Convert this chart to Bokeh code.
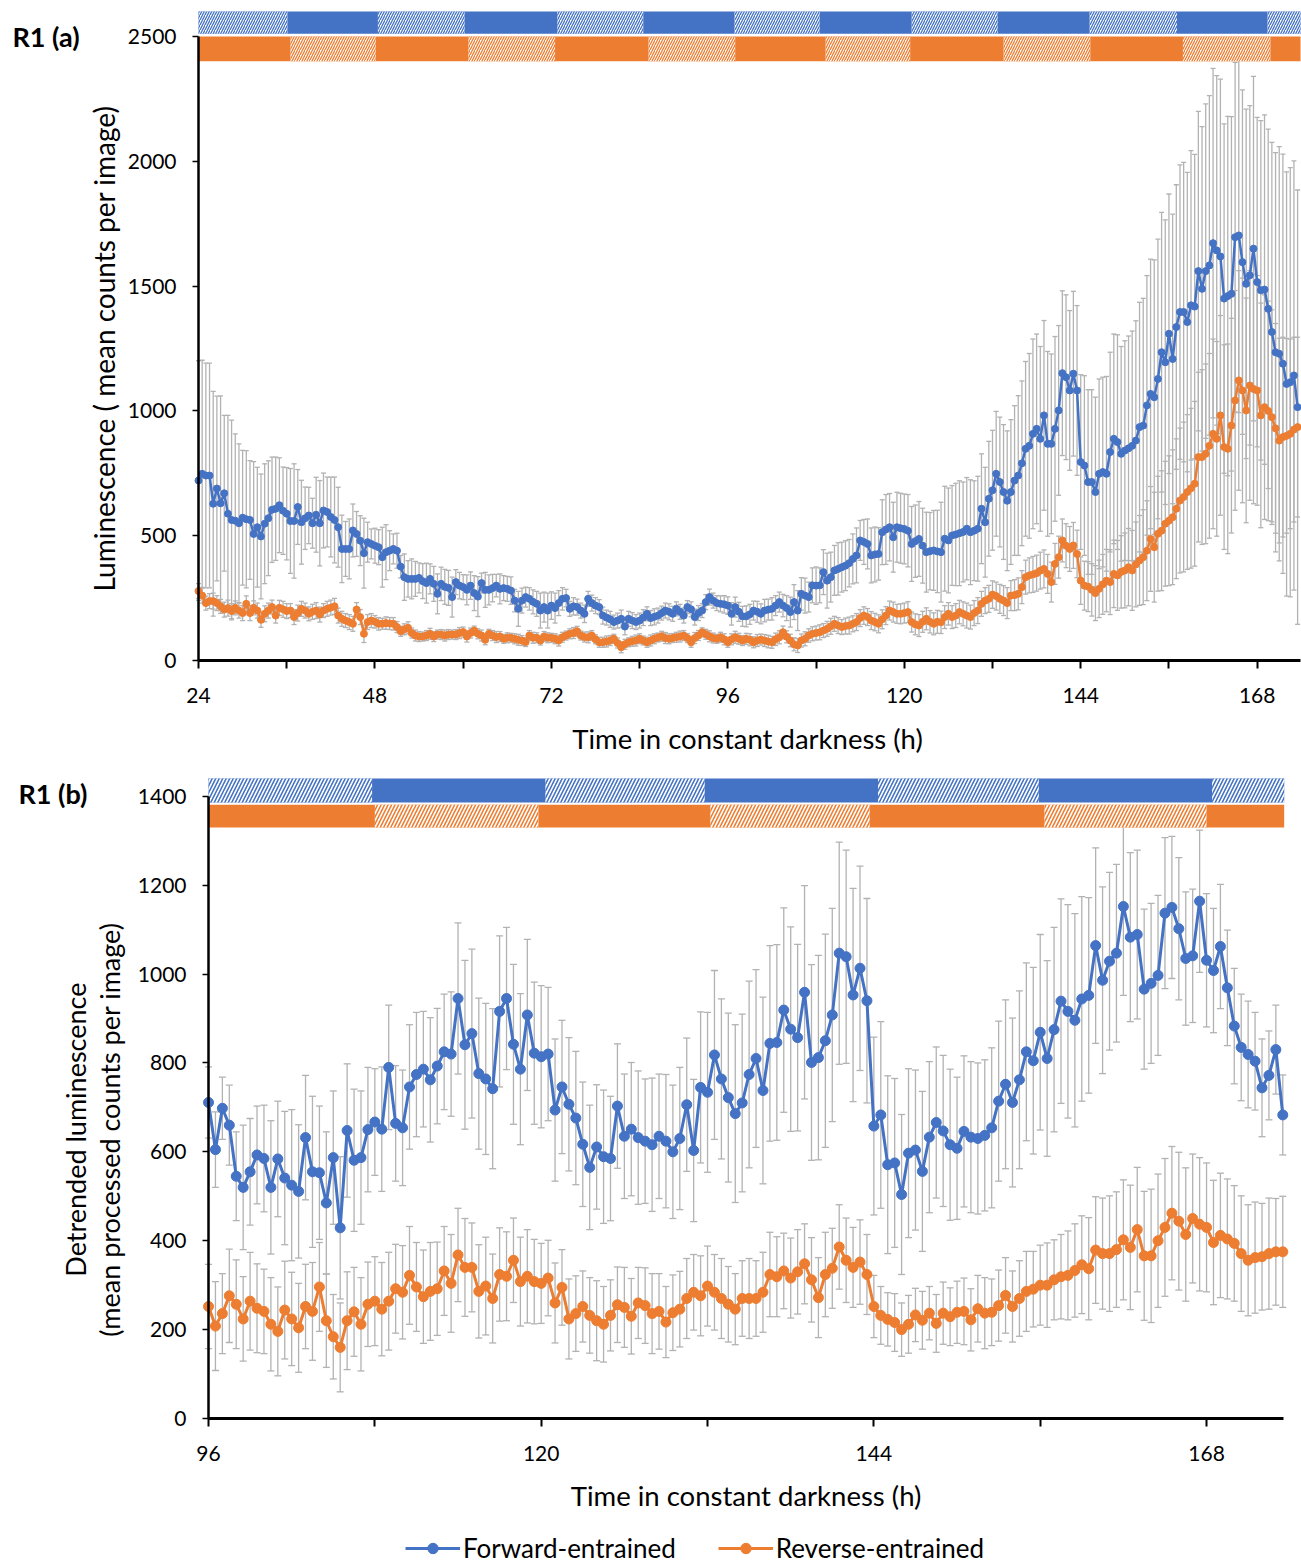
import math
from bokeh.plotting import figure
from bokeh.models import (Range1d, FixedTicker, Whisker, TeeHead, ColumnDataSource,
                          Legend, LegendItem)
from bokeh.layouts import column
from bokeh.embed import file_html
from bokeh.resources import INLINE
from bokeh.core.properties import value

BLUE = "#4472C4"
ORANGE = "#ED7D31"
GRAY = "#B2B2B2"
FONT = "Lato"

# ---------------- data: panel (a) ----------------
t0_a, step_a = 24.0, 0.5
blue_a = [
    721, 748, 741, 741, 628, 689, 630, 670, 588, 563, 560, 550,
    572, 566, 563, 507, 534, 497, 548, 570, 604, 608, 622, 600,
    588, 559, 559, 615, 554, 570, 581, 550, 584, 550, 601, 595,
    575, 563, 534, 447, 447, 447, 521, 507, 480, 430, 474, 467,
    460, 454, 414, 434, 440, 447, 440, 376, 334, 327, 327, 327,
    331, 318, 310, 327, 307, 267, 307, 295, 291, 254, 314, 300,
    294, 283, 300, 270, 256, 310, 283, 283, 290, 300, 287, 290,
    287, 280, 240, 207, 240, 254, 247, 235, 227, 200, 214, 200,
    220, 210, 230, 247, 250, 207, 217, 214, 200, 187, 247, 230,
    220, 214, 180, 172, 165, 154, 160, 167, 136, 167, 160, 154,
    160, 172, 187, 170, 175, 180, 190, 200, 195, 187, 207, 195,
    180, 214, 205, 174, 190, 200, 234, 254, 240, 230, 227, 225,
    220, 187, 214, 195, 177, 177, 185, 200, 195, 187, 200, 204,
    207, 220, 234, 220, 210, 194, 234, 200, 267, 260, 254, 301,
    300, 301, 354, 320, 334, 361, 367, 374, 380, 390, 407, 421,
    481, 475, 467, 421, 425, 427, 514, 525, 534, 494, 534, 530,
    527, 520, 467, 478, 487, 460, 434, 438, 441, 437, 434, 488,
    481, 501, 505, 510, 515, 528, 514, 520, 528, 608, 554, 648,
    682, 748, 715, 675, 640, 675, 721, 741, 790, 848, 860, 908,
    928, 888, 982, 868, 868, 928, 1002, 1151, 1135, 1082, 1149, 1082,
    795, 781, 715, 715, 675, 748, 755, 748, 835, 888, 875, 828,
    841, 850, 860, 881, 935, 941, 1022, 1068, 1055, 1128, 1235, 1195,
    1309, 1208, 1336, 1396, 1396, 1356, 1423, 1418, 1560, 1489, 1560, 1583,
    1672, 1643, 1619, 1450, 1460, 1469, 1696, 1703, 1596, 1509, 1543, 1650,
    1516, 1483, 1486, 1409, 1316, 1235, 1229, 1189, 1108, 1115, 1142, 1015,
]
blue_a_err = [
    480, 455, 450, 450, 450, 370, 430, 312, 394, 400, 348, 318,
    270, 275, 238, 290, 240, 250, 240, 230, 211, 207, 190, 175,
    185, 210, 229, 150, 168, 125, 113, 100, 150, 171, 150, 140,
    160, 172, 160, 135, 110, 120, 106, 90, 100, 140, 80, 60,
    70, 70, 120, 110, 80, 60, 70, 45, 93, 73, 80, 70,
    60, 70, 80, 60, 70, 80, 67, 70, 70, 80, 50, 53,
    50, 60, 55, 70, 80, 40, 70, 60, 55, 45, 60, 50,
    50, 55, 45, 70, 50, 40, 45, 48, 50, 70, 60, 70,
    55, 60, 50, 45, 35, 30, 35, 32, 30, 35, 30, 32,
    32, 30, 34, 30, 32, 28, 30, 35, 33, 30, 32, 30,
    30, 32, 28, 30, 32, 30, 28, 30, 32, 30, 28, 30,
    30, 26, 30, 32, 30, 28, 30, 32, 30, 30, 32, 35,
    35, 45, 40, 38, 40, 42, 40, 38, 42, 40, 45, 42,
    45, 40, 40, 45, 50, 60, 70, 80, 65, 70, 60, 70,
    75, 70, 90, 110, 100, 100, 105, 100, 100, 95, 100, 110,
    80, 90, 100, 110, 110, 105, 130, 140, 135, 140, 140, 140,
    140, 145, 150, 145, 150, 150, 160, 155, 160, 165, 200, 210,
    210, 200, 205, 210, 200, 205, 210, 200, 210, 220, 220, 230,
    240, 250, 260, 270, 280, 290, 300, 320, 330, 350, 370, 380,
    380, 370, 380, 370, 360, 370, 340, 330, 330, 320, 330, 340,
    350, 360, 370, 370, 380, 380, 380, 390, 400, 420, 430, 430,
    440, 450, 460, 480, 500, 510, 520, 540, 550, 560, 560, 570,
    560, 580, 570, 590, 600, 600, 620, 610, 640, 650, 670, 680,
    700, 700, 710, 700, 720, 710, 700, 710, 690, 700, 680, 690,
    660, 680, 700, 720, 760, 800, 830, 840, 850, 860, 860, 870,
]
orange_a = [
    278, 260, 230, 238, 238, 230, 217, 204, 210, 198, 211, 200,
    190, 227, 190, 211, 200, 163, 187, 200, 214, 180, 211, 205,
    198, 200, 174, 190, 207, 200, 187, 195, 200, 184, 200, 207,
    212, 217, 180, 167, 160, 154, 147, 204, 174, 107, 154, 160,
    155, 147, 147, 150, 148, 147, 134, 117, 125, 131, 110, 100,
    96, 96, 100, 107, 96, 104, 104, 100, 104, 104, 104, 110,
    114, 96, 110, 120, 107, 100, 83, 107, 100, 94, 96, 87,
    91, 91, 87, 83, 80, 74, 100, 91, 91, 80, 96, 91,
    91, 87, 80, 93, 100, 107, 110, 117, 100, 94, 93, 100,
    85, 73, 73, 76, 80, 87, 70, 53, 65, 73, 77, 80,
    87, 80, 73, 80, 87, 92, 97, 90, 87, 90, 93, 96,
    100, 90, 73, 90, 100, 113, 105, 97, 90, 87, 93, 85,
    73, 85, 93, 87, 80, 87, 83, 73, 80, 84, 80, 76,
    73, 85, 93, 113, 95, 80, 65, 60, 80, 87, 100, 107,
    110, 113, 120, 127, 137, 147, 140, 134, 138, 140, 147, 154,
    170, 180, 174, 160, 154, 147, 165, 180, 200, 194, 187, 187,
    190, 194, 154, 145, 140, 155, 167, 155, 147, 155, 153, 174,
    187, 174, 180, 194, 187, 180, 174, 190, 200, 227, 240, 247,
    264, 258, 247, 240, 230, 260, 262, 267, 294, 334, 341, 345,
    350, 360, 367, 347, 314, 387, 414, 481, 460, 447, 461, 427,
    320, 300, 296, 283, 270, 287, 305, 320, 314, 347, 341, 355,
    361, 374, 361, 385, 401, 414, 440, 487, 454, 508, 520, 548,
    560, 574, 608, 641, 655, 675, 690, 708, 815, 815, 828, 860,
    908, 888, 982, 855, 848, 941, 1042, 1122, 1082, 1002, 1102, 1088,
    1082, 982, 1015, 1000, 975, 930, 881, 895, 900, 908, 925, 935,
]
orange_a_err = [
    30, 30, 28, 30, 32, 30, 28, 30, 32, 30, 28, 30,
    30, 32, 30, 28, 30, 30, 32, 30, 28, 30, 30, 32,
    30, 28, 30, 32, 30, 30, 28, 30, 32, 30, 28, 30,
    30, 32, 30, 30, 28, 30, 30, 28, 30, 35, 30, 28,
    25, 25, 22, 25, 24, 25, 22, 20, 22, 24, 20, 22,
    20, 18, 20, 22, 20, 18, 20, 22, 20, 18, 20, 22,
    20, 22, 20, 18, 20, 22, 20, 18, 20, 22, 20, 18,
    20, 18, 20, 22, 20, 18, 20, 22, 20, 18, 20, 20,
    18, 20, 22, 20, 18, 20, 22, 20, 18, 20, 22, 20,
    18, 20, 20, 22, 20, 18, 20, 22, 20, 18, 20, 22,
    20, 18, 20, 22, 20, 18, 20, 22, 20, 18, 20, 22,
    20, 18, 20, 22, 20, 18, 20, 22, 20, 18, 20, 22,
    20, 22, 24, 22, 20, 22, 24, 22, 24, 22, 24, 25,
    24, 25, 26, 25, 24, 25, 26, 28, 26, 28, 27, 28,
    28, 30, 28, 30, 32, 30, 32, 30, 32, 34, 32, 34,
    34, 35, 34, 36, 35, 36, 38, 36, 38, 40, 38, 40,
    40, 42, 40, 42, 44, 42, 44, 45, 44, 46, 45, 46,
    45, 46, 48, 47, 48, 50, 48, 50, 52, 50, 52, 54,
    55, 56, 58, 60, 62, 60, 62, 64, 66, 68, 70, 72,
    72, 74, 76, 78, 80, 82, 84, 86, 88, 90, 92, 95,
    95, 98, 100, 105, 110, 115, 120, 125, 130, 135, 140, 145,
    150, 155, 160, 170, 180, 190, 200, 210, 220, 230, 240, 250,
    260, 270, 280, 290, 300, 310, 320, 330, 340, 350, 360, 370,
    380, 390, 400, 410, 420, 430, 440, 440, 450, 450, 460, 460,
    460, 450, 450, 440, 430, 420, 410, 400, 390, 380, 370, 360,
]
xticks_a = [24, 48, 72, 96, 120, 144, 168]
xminor_a = [36, 60, 84, 108, 132, 156]
yticks_a = [0, 500, 1000, 1500, 2000, 2500]
blue_hatch_start_a = [24.0, 48.4, 72.8, 96.9, 121.0, 145.2, 169.4]
blue_hatch_end_a = [36.1, 60.2, 84.5, 108.5, 132.7, 157.1, 173.9]
orange_hatch_start_a = [36.5, 60.7, 85.2, 109.3, 133.5, 157.9]
orange_hatch_end_a = [48.1, 72.5, 97.0, 120.8, 145.3, 169.8]

# ---------------- data: panel (b) ----------------
t0_b, step_b = 96.0, 0.5
blue_b = [
    711, 605, 698, 660, 545, 520, 555, 593, 585, 520, 584, 541,
    525, 511, 632, 555, 553, 485, 587, 429, 648, 581, 587, 650,
    667, 651, 790, 664, 654, 746, 774, 786, 762, 793, 825, 820,
    945, 841, 866, 776, 764, 742, 916, 945, 842, 786, 908, 822,
    814, 820, 694, 746, 707, 676, 617, 565, 611, 589, 585, 703,
    635, 651, 632, 624, 616, 635, 624, 600, 630, 706, 603, 745,
    734, 818, 764, 722, 686, 710, 774, 810, 738, 844, 846, 919,
    876, 857, 959, 801, 812, 850, 908, 1047, 1039, 953, 1013, 940,
    658, 683, 571, 575, 504, 597, 604, 556, 633, 666, 647, 616,
    608, 646, 633, 630, 637, 654, 714, 752, 711, 762, 825, 805,
    869, 810, 875, 939, 916, 896, 944, 952, 1064, 986, 1029, 1047,
    1152, 1083, 1089, 966, 979, 997, 1137, 1150, 1102, 1035, 1041, 1164,
    1031, 1008, 1062, 969, 883, 835, 819, 804, 744, 772, 830, 683,
]
blue_b_err = [
    80, 85, 70, 90, 100, 140, 120, 110, 120, 150, 130, 150,
    170, 150, 140, 170, 150, 160, 150, 160, 150, 160, 150, 140,
    120, 140, 140, 130, 130, 140, 140, 130, 140, 130, 130, 140,
    170, 190, 190, 170, 170, 180, 170, 160, 180, 170, 170, 160,
    160, 150, 160, 150, 150, 150, 140, 140, 140, 150, 140, 140,
    140, 150, 150, 140, 150, 140, 150, 150, 160, 150, 160, 170,
    180, 190, 180, 190, 200, 200, 210, 200, 210, 220, 220, 230,
    230, 210, 240, 220, 230, 240, 240, 250, 240, 240, 230, 230,
    200, 210, 200, 190, 180, 190, 180, 180, 170, 170, 170, 170,
    160, 170, 170, 170, 170, 180, 180, 190, 190, 200, 200, 210,
    220, 220, 230, 230, 240, 240, 230, 220, 220, 210, 200, 200,
    200, 190, 190, 180, 180, 180, 170, 160, 160, 150, 150, 160,
    150, 140, 140, 130, 130, 120, 120, 110, 110, 100, 100, 90,
]
orange_b = [
    252, 208, 236, 276, 257, 224, 264, 248, 241, 212, 196, 244,
    224, 204, 252, 241, 296, 220, 184, 160, 220, 240, 212, 257,
    264, 246, 264, 292, 284, 322, 296, 274, 286, 292, 332, 304,
    368, 340, 340, 286, 298, 270, 324, 320, 356, 308, 320, 308,
    304, 316, 260, 295, 224, 236, 252, 232, 220, 212, 232, 256,
    250, 230, 260, 254, 236, 241, 217, 238, 246, 270, 284, 276,
    298, 284, 270, 257, 246, 270, 270, 270, 284, 324, 319, 332,
    316, 330, 348, 312, 272, 324, 338, 386, 356, 340, 352, 324,
    252, 232, 223, 216, 200, 212, 233, 221, 237, 214, 237, 229,
    239, 241, 222, 247, 237, 239, 254, 277, 252, 270, 286, 291,
    300, 300, 312, 319, 322, 333, 346, 337, 379, 371, 371, 380,
    402, 385, 425, 366, 366, 400, 430, 462, 444, 414, 450, 437,
    430, 396, 412, 404, 394, 371, 356, 362, 364, 371, 375, 375,
]
orange_b_err = [
    95, 100, 90, 105, 100, 95, 110, 100, 95, 105, 100, 110,
    105, 100, 95, 110, 100, 105, 95, 100, 110, 100, 105, 95,
    100, 105, 110, 100, 105, 110, 100, 105, 110, 105, 100, 110,
    105, 110, 100, 105, 110, 100, 105, 100, 95, 100, 105, 95,
    90, 85, 90, 85, 90, 85, 80, 85, 90, 85, 80, 85,
    90, 85, 80, 85, 90, 85, 80, 85, 85, 90, 85, 90,
    90, 85, 90, 85, 80, 85, 90, 85, 90, 95, 90, 85,
    90, 95, 90, 95, 90, 95, 90, 95, 95, 90, 95, 90,
    70, 65, 60, 65, 60, 65, 60, 65, 60, 65, 70, 65,
    70, 75, 70, 75, 80, 75, 80, 85, 80, 85, 90, 85,
    90, 95, 90, 95, 100, 105, 110, 115, 120, 125, 130, 130,
    135, 140, 140, 145, 150, 150, 155, 150, 155, 150, 145, 150,
    145, 140, 140, 135, 130, 130, 125, 125, 120, 125, 120, 125,
]
xticks_b = [96, 120, 144, 168]
xminor_b = [108, 132, 156]
yticks_b = [0, 200, 400, 600, 800, 1000, 1200, 1400]
blue_hatch_start_b = [96.0, 120.3, 144.3, 168.4]
blue_hatch_end_b = [107.8, 131.8, 155.9, 173.6]
orange_hatch_start_b = [108.0, 132.2, 156.3]
orange_hatch_end_b = [119.8, 143.7, 168.0]

X_TITLE = "Time in constant darkness (h)"


def times(t0, step, vals):
    return [t0 + step * i for i in range(len(vals))]


def style(p, xt, xminor, xbounds, xloc, yt, ybound, yloc, ylw):
    p.outline_line_color = None
    p.grid.visible = False
    xa = p.xaxis[0]
    xa.fixed_location = xloc
    xa.ticker = FixedTicker(ticks=xt, minor_ticks=xminor)
    xa.bounds = xbounds
    xa.axis_line_width = 3
    xa.axis_line_color = "black"
    for a in ("major", "minor"):
        setattr(xa, a + "_tick_line_color", "black")
        setattr(xa, a + "_tick_line_width", 2)
        setattr(xa, a + "_tick_out", 8)
        setattr(xa, a + "_tick_in", 0)
    xa.major_label_text_font = FONT
    xa.major_label_text_font_size = "21px"
    xa.major_label_text_color = "black"
    xa.major_label_standoff = 19
    ya = p.yaxis[0]
    ya.fixed_location = yloc
    ya.ticker = FixedTicker(ticks=yt, minor_ticks=[])
    ya.bounds = (0, ybound)
    ya.axis_line_width = ylw
    ya.axis_line_color = "black"
    ya.major_tick_line_color = "black"
    ya.major_tick_line_width = 1.5
    ya.major_tick_out = 6
    ya.major_tick_in = 0
    ya.minor_tick_line_color = None
    ya.major_label_text_font = FONT
    ya.major_label_text_font_size = "21px"
    ya.major_label_text_color = "black"
    ya.major_label_standoff = 16


def bars(p, left, right, bot, top, color, hs, he, hscale, hw):
    p.quad(left=[left], right=[right], bottom=[bot], top=[top],
           fill_color=color, line_color=None)
    p.quad(left=hs, right=he, bottom=[bot] * len(hs), top=[top] * len(hs),
           fill_color="white", line_color=None, hatch_pattern="/",
           hatch_color=color, hatch_scale=hscale, hatch_weight=hw)


def errorbars(p, t0, step, vals, errs, cap):
    n = min(len(vals), len(errs))
    te = times(t0, step, errs)[:n]
    src_e = ColumnDataSource(dict(x=te,
                                  up=[vals[i] + errs[i] for i in range(n)],
                                  lo=[vals[i] - errs[i] for i in range(n)]))
    p.add_layout(Whisker(source=src_e, base="x", upper="up", lower="lo",
                         line_color=GRAY, line_width=1.3,
                         upper_head=TeeHead(size=cap, line_color=GRAY, line_width=1.3),
                         lower_head=TeeHead(size=cap, line_color=GRAY, line_width=1.3)))


def line_series(p, t0, step, vals, color, lw, size):
    t = times(t0, step, vals)
    p.line(t, vals, line_color=color, line_width=lw)
    p.scatter(t, vals, marker="circle", size=size, fill_color=color, line_color=color)


def txt(p, x, y, s, size, bold=False, angle=0.0, align="left"):
    p.text(x=[x], y=[y], text=[s], text_font=value(FONT), text_font_size=value(size),
           text_font_style="bold" if bold else "normal", text_align=align,
           text_baseline="middle", angle=angle, text_color="black")


# ---------------- panel (a) ----------------
# the frame fills the whole figure: 24 h at 198 px from the left (7.3516 px/h),
# 0 at 660 px from the top (4.00641 units/px)
p1 = figure(width=1301, height=770, output_backend="svg", toolbar_location=None,
            x_range=Range1d(-2.933, 174.03), y_range=Range1d(-440.7, 2644.2),
            min_border=0)
style(p1, xticks_a, xminor_a, (24, 173.9), 0, yticks_a, 2500, 24, 2.5)
bars(p1, 24, 173.9, 2511, 2600, BLUE, blue_hatch_start_a, blue_hatch_end_a, 5, 1.3)
bars(p1, 24, 173.9, 2401, 2500, ORANGE, orange_hatch_start_a, orange_hatch_end_a, 5, 1.3)
errorbars(p1, t0_a, step_a, blue_a, blue_a_err, 5)
errorbars(p1, t0_a, step_a, orange_a, orange_a_err, 5)
line_series(p1, t0_a, step_a, blue_a, BLUE, 2.5, 7)
line_series(p1, t0_a, step_a, orange_a, ORANGE, 2.5, 7)
txt(p1, -1.3, 2500, "R1 (a)", "27px", bold=True)
txt(p1, 11.08, 1250, "Luminescence ( mean counts per image)", "28px",
    angle=math.pi / 2, align="center")
txt(p1, 98.68, -312.5, X_TITLE, "27.5px", align="center")

# ---------------- panel (b) ----------------
# 96 h at 208 px from the left (13.8613 px/h), 0 at 648 px from the top (2.25 units/px)
p2 = figure(width=1301, height=756, output_backend="svg", toolbar_location=None,
            x_range=Range1d(80.994, 174.85), y_range=Range1d(-243, 1458),
            min_border=0)
style(p2, xticks_b, xminor_b, (96, 173.55), 0, yticks_b, 1400, 96, 2.5)
bars(p2, 96, 173.6, 1386, 1440, BLUE, blue_hatch_start_b, blue_hatch_end_b, 7, 1.6)
bars(p2, 96, 173.6, 1330, 1381, ORANGE, orange_hatch_start_b, orange_hatch_end_b, 7, 1.6)
errorbars(p2, t0_b, step_b, blue_b, blue_b_err, 7)
errorbars(p2, t0_b, step_b, orange_b, orange_b_err, 7)
line_series(p2, t0_b, step_b, blue_b, BLUE, 3, 10)
line_series(p2, t0_b, step_b, orange_b, ORANGE, 3, 10)
txt(p2, 82.29, 1406, "R1 (b)", "27px", bold=True)
txt(p2, 86.405, 650, "Detrended luminescence", "27px", angle=math.pi / 2, align="center")
txt(p2, 88.86, 650, "(mean processed counts per image)", "27px",
    angle=math.pi / 2, align="center")
txt(p2, 134.78, -173, X_TITLE, "27.5px", align="center")

# ---------------- legend ----------------
p3 = figure(width=1301, height=38, output_backend="svg", toolbar_location=None,
            x_range=Range1d(0, 1), y_range=Range1d(0, 1),
            x_axis_location=None, y_axis_location=None, min_border=0)
p3.outline_line_color = None
p3.grid.visible = False
l1 = p3.line([-5, -4], [-5, -5], line_color=BLUE, line_width=3)
s1 = p3.scatter([-5], [-5], marker="circle", size=10, fill_color=BLUE, line_color=BLUE)
l2 = p3.line([-5, -4], [-5, -5], line_color=ORANGE, line_width=3)
s2 = p3.scatter([-5], [-5], marker="circle", size=10, fill_color=ORANGE, line_color=ORANGE)
leg = Legend(items=[LegendItem(label="Forward-entrained", renderers=[l1, s1]),
                    LegendItem(label="Reverse-entrained", renderers=[l2, s2])],
             orientation="horizontal", location=(405, 0), glyph_width=55, glyph_height=26,
             label_standoff=3, spacing=42, padding=0, margin=0,
             border_line_alpha=0, background_fill_alpha=0,
             label_text_font=FONT, label_text_font_size="26px", label_text_color="black")
p3.add_layout(leg)

layout = column(p1, p2, p3)
open("out.html", "w").write(file_html(layout, INLINE))
